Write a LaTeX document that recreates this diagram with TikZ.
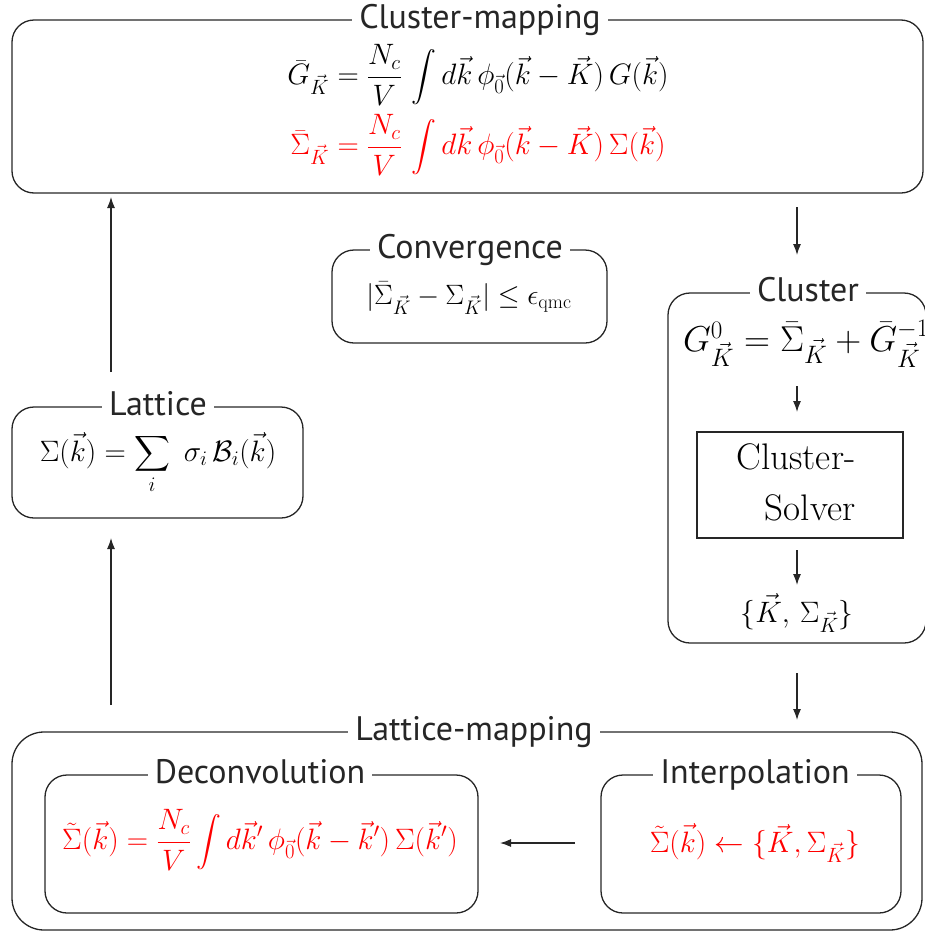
\RequirePackage{fix-cm}
\documentclass[tikz,border=0pt]{standalone}
\usepackage{fontspec}
\usepackage{amsmath}
\usepackage{graphicx}
\newfontfamily\titlefont{PT Sans}
\usetikzlibrary{arrows.meta}
\tikzset{
  rbox/.style={draw=black!85, line width=1.3pt, rounded corners=22pt, inner sep=0pt},
  sbox/.style={draw=black!85, line width=1.2pt, inner sep=0pt},
  ttl/.style={fill=white, anchor=base, inner xsep=7pt, inner ysep=1pt, text=black!85, font=\titlefont\fontsize{34}{38}\selectfont},
  eq/.style={font=\fontsize{29.5}{34}\selectfont, inner sep=0pt},
  reqn/.style={eq, text=red},
  arr/.style={-{Latex[length=11pt,width=8pt]}, line width=1.2pt, draw=black!85},
}
\begin{document}
\begin{tikzpicture}[x=1pt,y=-1pt]
\useasboundingbox (0,0) rectangle (924,932);
% boxes
\node[rbox, minimum width=911pt, minimum height=173pt] (cm) at (467.5,106.5) {};
\node[rbox, minimum width=275pt, minimum height=93pt] (conv) at (469.5,296.5) {};
\node[rbox, minimum width=258pt, minimum height=350pt] (cl) at (797,468) {};
\node[sbox, minimum width=206pt, minimum height=106pt] (solv) at (800,485) {};
\node[rbox, minimum width=291pt, minimum height=111pt] (lat) at (157.5,462.5) {};
\node[rbox, rounded corners=32pt, minimum width=910pt, minimum height=198pt] (lm) at (467,831) {};
\node[rbox, minimum width=433pt, minimum height=138pt] (dec) at (261.5,844) {};
\node[rbox, minimum width=300pt, minimum height=138pt] (intp) at (751,844) {};
% titles
\node[ttl] (tcm) at (480,28) {Cluster-mapping};
\node[ttl] (tconv) at (470,258) {Convergence};
\node[ttl] (tcl) at (808,301) {Cluster};
\node[ttl] (tlat) at (158,415) {Lattice};
\node[ttl] (tlm) at (474,740) {Lattice-mapping};
\node[ttl] (tdec) at (260,783) {Deconvolution};
\node[ttl] (tintp) at (755,783) {Interpolation};
% formulas
\node[eq] (e1) at (478,75) {$\displaystyle \bar G_{\vec K} = \frac{N_c}{V}\,\int d\vec k\,\phi_{\vec 0}(\vec k-\vec K)\,G(\vec k)$};
\node[reqn] (e2) at (478,145) {$\displaystyle \bar \Sigma_{\vec K} = \frac{N_c}{V}\,\int d\vec k\,\phi_{\vec 0}(\vec k-\vec K)\,\Sigma(\vec k)$};
\node[eq, font=\fontsize{28}{32}\selectfont] (econv) at (469,298) {$|\bar\Sigma_{\vec K} - \Sigma_{\vec K}| \le \epsilon_{\mathrm{qmc}}$};
\node[eq, font=\fontsize{36}{40}\selectfont] (eg0) at (806,344) {$G^0_{\vec K} = \bar\Sigma_{\vec K} + \bar G^{-1}_{\vec K}$};
\node[eq, font=\fontsize{37}{42}\selectfont] (sol1) at (796,457) {Cluster-};
\node[eq, font=\fontsize{37}{42}\selectfont] (sol2) at (810,508) {Solver};
\node[eq] (ekset) at (797,613) {$\{\vec K,\,\Sigma_{\vec K}\}$};
\node[eq] (elat) at (158,463) {$\displaystyle \Sigma(\vec k) = \sum_i\ \sigma_i\,\mathcal B_i(\vec k)$};
\node[reqn] (edec) at (260,840) {$\displaystyle \tilde\Sigma(\vec k) = \frac{N_c}{V}\int d\vec k'\,\phi_{\vec 0}(\vec k-\vec k')\,\Sigma(\vec k')$};
\node[reqn] (eintp) at (755,843) {$\tilde\Sigma(\vec k) \leftarrow \{\vec K,\Sigma_{\vec K}\}$};
% arrow end points
\coordinate (a1s) at (111,372);
\coordinate (a1e) at (111,197);
\coordinate (a2s) at (111,705);
\coordinate (a2e) at (111,538);
\coordinate (a3s) at (797,207);
\coordinate (a3e) at (797,255);
\coordinate (a4s) at (797,673);
\coordinate (a4e) at (797,720);
\coordinate (a5s) at (575,843);
\coordinate (a5e) at (500,843);
\coordinate (a6s) at (797,386);
\coordinate (a6e) at (797,412);
\coordinate (a7s) at (797,550);
\coordinate (a7e) at (797,585);
% arrows
\draw[arr] (a1s) -- (a1e);
\draw[arr] (a2s) -- (a2e);
\draw[arr] (a3s) -- (a3e);
\draw[arr] (a4s) -- (a4e);
\draw[arr] (a5s) -- (a5e);
\draw[arr] (a6s) -- (a6e);
\draw[arr] (a7s) -- (a7e);
\end{tikzpicture}
\end{document}
